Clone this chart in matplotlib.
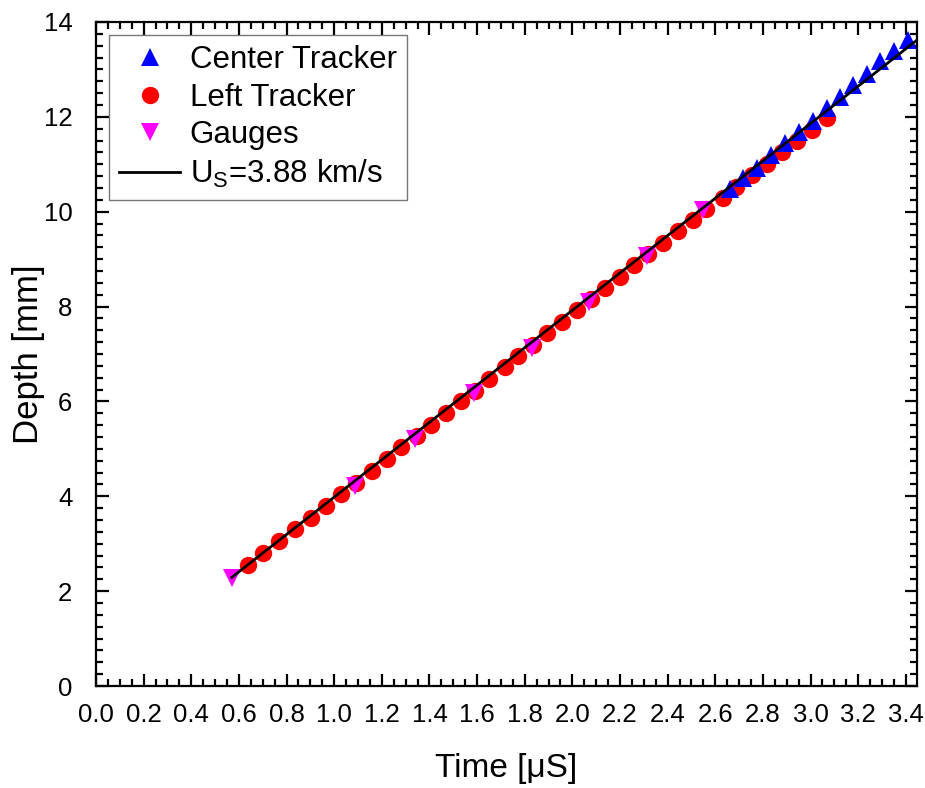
import matplotlib
matplotlib.use("Agg")
import matplotlib.pyplot as plt
from matplotlib.ticker import MultipleLocator, FormatStrFormatter

plt.rcParams['font.family'] = ['Liberation Sans', 'DejaVu Sans']
plt.rcParams['mathtext.fontset'] = 'custom'
plt.rcParams['mathtext.rm'] = 'Liberation Sans'
plt.rcParams['mathtext.it'] = 'Liberation Sans'

# Center Tracker (blue up triangles)
center_time = [2.662, 2.716, 2.773, 2.834, 2.892, 2.951, 3.010, 3.067,
               3.123, 3.179, 3.236, 3.293, 3.350, 3.410]
center_depth = [10.48, 10.72, 10.93, 11.20, 11.45, 11.68, 11.91, 12.18,
                12.42, 12.67, 12.91, 13.17, 13.39, 13.63]

# Left Tracker (red circles)
left_time = [0.637, 0.702, 0.770, 0.835, 0.901, 0.966, 1.027, 1.090, 1.160, 1.220,
             1.280, 1.346, 1.406, 1.469, 1.531, 1.591, 1.651, 1.717, 1.773, 1.836,
             1.892, 1.955, 2.018, 2.077, 2.137, 2.200, 2.259, 2.319, 2.382, 2.445,
             2.508, 2.561, 2.634, 2.689, 2.753, 2.815, 2.879, 2.944, 3.005, 3.067]
left_depth = [2.55, 2.80, 3.06, 3.31, 3.54, 3.79, 4.04, 4.28, 4.53, 4.78,
              5.03, 5.27, 5.51, 5.75, 6.00, 6.22, 6.47, 6.72, 6.96, 7.20,
              7.44, 7.68, 7.92, 8.15, 8.40, 8.63, 8.87, 9.11, 9.35, 9.59,
              9.83, 10.05, 10.29, 10.53, 10.77, 11.01, 11.26, 11.50, 11.73, 11.97]

# Gauges (magenta down triangles)
gauge_time = [0.571, 1.087, 1.339, 1.587, 1.830, 2.070, 2.313, 2.548]
gauge_depth = [2.28, 4.22, 5.21, 6.17, 7.13, 8.09, 9.07, 10.04]

# Shock velocity fit line
fit_time = [0.570, 3.447]
fit_depth = [2.29, 13.62]
fit_label = r'U$_{\mathregular{S}}$=3.88 km/s'

xtick_vals = [round(0.2 * i, 1) for i in range(18)]
ytick_vals = list(range(0, 15, 2))

fig = plt.figure(figsize=(9.25, 7.88), dpi=100)
ax = fig.add_axes([0.1038, 0.1294, 0.8876, 0.8427])

ax.plot(left_time, left_depth, linestyle='none', marker='o', color='#ff0000',
        markersize=12.5, markeredgewidth=0, label='Left Tracker', zorder=2)
ax.plot(gauge_time, gauge_depth, linestyle='none', marker='v', color='#ff00ff',
        markersize=13.5, markeredgewidth=0, label='Gauges', zorder=3)
ax.plot(center_time, center_depth, linestyle='none', marker='^', color='#0000ff',
        markersize=13.5, markeredgewidth=0, label='Center Tracker', zorder=3)
ax.plot(fit_time, fit_depth, color='black', linewidth=2.0, label=fit_label, zorder=4)

ax.set_xlim(0, 3.447)
ax.set_ylim(0, 14)
ax.set_xticks(xtick_vals)
ax.set_yticks(ytick_vals)
ax.xaxis.set_major_formatter(FormatStrFormatter('%.1f'))
ax.xaxis.set_minor_locator(MultipleLocator(0.05))
ax.yaxis.set_minor_locator(MultipleLocator(0.25))
ax.tick_params(which='both', direction='in', top=True, right=True, width=1.6)
ax.tick_params(which='major', length=9, labelsize=18.5)
ax.tick_params(axis='x', which='major', pad=12)
ax.tick_params(axis='y', which='major', pad=17)
ax.tick_params(which='minor', length=5)
for s in ax.spines.values():
    s.set_linewidth(1.6)

ax.set_xlabel('Time [μS]', fontsize=24, labelpad=19)
ax.set_ylabel('Depth [mm]', fontsize=25, labelpad=-1)

h, l = ax.get_legend_handles_labels()
order = [2, 0, 1, 3]
leg = ax.legend([h[i] for i in order], [l[i] for i in order], loc='upper left',
                fontsize=22.5, frameon=True, fancybox=False, edgecolor='#555555',
                handlelength=1.95, handletextpad=0.3, borderpad=0.33,
                labelspacing=0.24, borderaxespad=0.42, markerscale=1.0)
leg.get_frame().set_linewidth(1.0)

fig.savefig('out.png', dpi=100)
